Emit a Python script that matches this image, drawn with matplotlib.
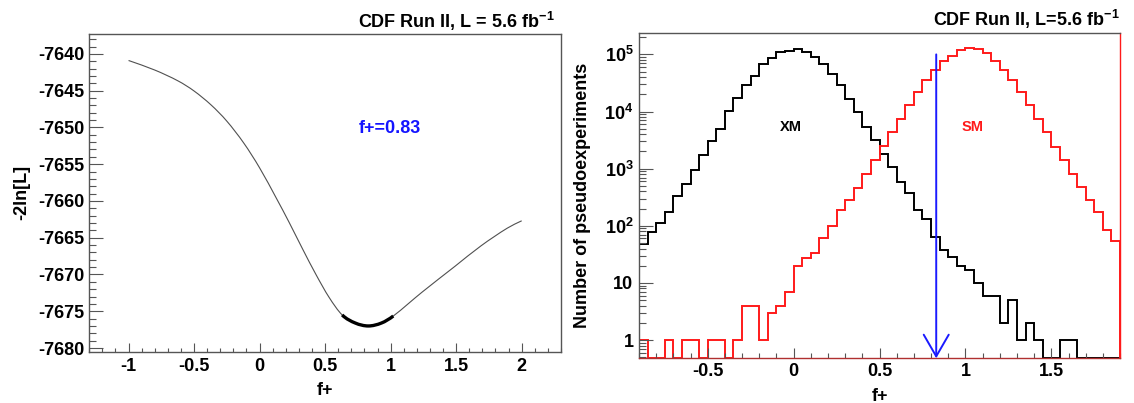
import numpy as np
import matplotlib
matplotlib.use("Agg")
import matplotlib.pyplot as plt
from matplotlib.path import Path
from matplotlib.patches import PathPatch
from matplotlib.ticker import (MultipleLocator, FixedLocator, FixedFormatter,
                               LogLocator, NullFormatter, FuncFormatter)

plt.rcParams['font.family'] = ['Liberation Sans', 'DejaVu Sans']
plt.rcParams['font.weight'] = 'bold'
plt.rcParams['axes.unicode_minus'] = False
plt.rcParams['mathtext.fontset'] = 'custom'
plt.rcParams['mathtext.rm'] = 'Liberation Sans:bold'
plt.rcParams['mathtext.it'] = 'Liberation Sans:bold'
plt.rcParams['mathtext.bf'] = 'Liberation Sans:bold'

# ---------------- data: left panel (likelihood scan) ----------------
scan_f = [-1.0, -0.8, -0.62, -0.5, -0.37, -0.25, -0.12, 0.0, 0.13, 0.225,
          0.33, 0.43, 0.53, 0.63, 0.73, 0.83, 0.93, 1.02, 1.24, 1.49,
          1.69, 1.89, 2.0]
scan_nll = [-7640.9, -7642.2, -7643.7, -7645.05, -7646.95, -7649.15, -7652.15,
            -7655.5, -7659.7, -7662.9, -7666.6, -7670.0, -7673.1, -7675.5,
            -7676.6, -7677.0, -7676.6, -7675.65, -7672.4, -7668.9, -7666.1,
            -7663.7, -7662.7]
f_fit = 0.83
band_lo, band_hi = 0.63, 1.02

# ---------------- data: right panel (pseudoexperiments) ----------------
bin_lo, bin_hi, n_bins = -0.9, 1.9, 56
xm_counts = [49, 78, 112, 175, 329, 534, 938, 1715, 3013, 4950,
             10080, 17250, 28700, 41200, 68700, 87500, 110000, 117000, 122000, 110000,
             89700, 68700, 46000, 28700, 16800, 9800, 5370, 3200, 1830, 1070,
             586, 370, 187, 134, 65, 37, 28, 20, 17, 10,
             6, 6, 2, 5, 1, 2, 1, 0, 0, 1,
             1, 0, 0, 0, 0, 0]
sm_counts = [1, 0, 0, 1, 0, 1, 1, 0, 1, 1,
             0, 1, 4, 4, 1, 3, 4, 7, 20, 27,
             34, 60, 98, 187, 280, 460, 810, 1440, 2450, 4380,
             7500, 12800, 21900, 35000, 52500, 76000, 92000, 121000, 131000, 122000,
             105000, 76000, 52500, 35000, 21900, 12800, 7500, 4380, 2400, 1400,
             800, 480, 280, 175, 84, 54]
ytick_vals = [1, 10, 1e2, 1e3, 1e4, 1e5]
ytick_text = ['1', '10', r'$10^{2}$', r'$10^{3}$', r'$10^{4}$', r'$10^{5}$']

Y_MIN, Y_MAX = 0.48, 2.4e5

fmt = FuncFormatter(lambda v, p: f'{v + 0:g}')


def smooth_curve(xs, ys, i0, i1):
    """Smooth Bezier path through the given points (indices i0..i1)."""
    xs = np.asarray(xs, float)
    ys = np.asarray(ys, float)
    n = len(xs)
    slopes = np.empty(n)
    for i in range(n):
        a, b = max(i - 1, 0), min(i + 1, n - 1)
        slopes[i] = (ys[b] - ys[a]) / (xs[b] - xs[a])
    verts = [(xs[i0], ys[i0])]
    codes = [Path.MOVETO]
    for i in range(i0, i1):
        h = xs[i + 1] - xs[i]
        verts += [(xs[i] + h / 3, ys[i] + slopes[i] * h / 3),
                  (xs[i + 1] - h / 3, ys[i + 1] - slopes[i + 1] * h / 3),
                  (xs[i + 1], ys[i + 1])]
        codes += [Path.CURVE4] * 3
    return Path(verts, codes)


fig = plt.figure(figsize=(11.34, 4.03), dpi=100)
ax1 = fig.add_axes([0.0787, 0.1273, 0.4160, 0.7883])
ax2 = fig.add_axes([0.5635, 0.1109, 0.4242, 0.8080])

# ---------------- left panel ----------------
f = np.array(scan_f)
nll = np.array(scan_nll)
ax1.add_patch(PathPatch(smooth_curve(f, nll, 0, len(f) - 1), fill=False,
                        edgecolor='#505050', lw=0.8))
idx = np.where((f >= band_lo) & (f <= band_hi))[0]
ax1.add_patch(PathPatch(smooth_curve(f, nll, idx[0], idx[-1]), fill=False,
                        edgecolor='black', lw=2.4, capstyle='butt'))
ax1.set_xlim(-1.3, 2.3)
ax1.set_ylim(-7680.5, -7637.3)
ax1.xaxis.set_major_locator(MultipleLocator(0.5))
ax1.xaxis.set_minor_locator(MultipleLocator(0.1))
ax1.yaxis.set_major_locator(MultipleLocator(5))
ax1.yaxis.set_minor_locator(MultipleLocator(1))
ax1.xaxis.set_major_formatter(fmt)
ax1.yaxis.set_major_formatter(fmt)
ax1.tick_params(which='both', direction='in', top=False, right=False,
                color='#555555', width=0.8, labelcolor='black')
ax1.tick_params(axis='y', which='major', length=10, pad=3.5, labelsize=13)
ax1.tick_params(axis='y', which='minor', length=5)
ax1.tick_params(axis='x', which='major', length=6.5, pad=4.5, labelsize=13)
ax1.tick_params(axis='x', which='minor', length=3.2)
for s in ax1.spines.values():
    s.set_color('#555555')
    s.set_linewidth(1.0)
ax1.set_xlabel('f+', fontsize=13, fontweight='bold', va='center')
ax1.xaxis.set_label_coords(0.5, -0.1206)
ax1.set_ylabel('-2ln[L]', fontsize=13, fontweight='bold', va='center')
ax1.yaxis.set_label_coords(-0.143, 0.5)
ax1.text(0.6375, 0.703, 'f+=0.83', transform=ax1.transAxes, ha='center',
         va='center', color='#1414ff', fontsize=13, fontweight='bold')
fig.text(555 / 1134, 1 - 28 / 403, r'CDF Run II, L = 5.6 fb$^{-1}$',
         ha='right', va='baseline', fontsize=13, fontweight='bold')

# ---------------- right panel ----------------
edges = np.linspace(bin_lo, bin_hi, n_bins + 1)
xm = np.array(xm_counts, dtype=float)
sm = np.array(sm_counts, dtype=float)
ax2.set_yscale('log')
ax2.stairs(np.where(xm > 0, xm, Y_MIN), edges, baseline=Y_MIN, fill=False,
           color='black', lw=1.4)
ax2.stairs(np.where(sm > 0, sm, Y_MIN), edges, baseline=Y_MIN, fill=False,
           color='#ff1a1a', lw=1.4)
ax2.annotate('', xy=(f_fit, Y_MIN), xytext=(f_fit, 1.0e5),
             arrowprops=dict(arrowstyle='->,head_length=1.56,head_width=0.9',
                             color='#1a1aff', lw=1.4, shrinkA=0, shrinkB=0,
                             mutation_scale=10))
ax2.set_xlim(bin_lo, bin_hi)
ax2.set_ylim(Y_MIN, Y_MAX)
ax2.yaxis.set_major_locator(FixedLocator(ytick_vals))
ax2.yaxis.set_major_formatter(FixedFormatter(ytick_text))
ax2.yaxis.set_minor_locator(LogLocator(base=10, subs=np.arange(2, 10)))
ax2.yaxis.set_minor_formatter(NullFormatter())
ax2.xaxis.set_major_locator(MultipleLocator(0.5))
ax2.xaxis.set_minor_locator(MultipleLocator(0.1))
ax2.xaxis.set_major_formatter(fmt)
ax2.tick_params(which='both', direction='in', top=False, right=False,
                color='#555555', width=0.8, labelcolor='black')
ax2.tick_params(axis='y', which='major', length=10, pad=4, labelsize=13)
ax2.tick_params(axis='y', which='minor', length=5)
ax2.tick_params(axis='x', which='major', length=7, pad=3.5, labelsize=13)
ax2.tick_params(axis='x', which='minor', length=3.5)
for k, s in ax2.spines.items():
    s.set_color('#555555')
    s.set_linewidth(1.0)
ax2.spines['right'].set_color('#ff1a1a')
ax2.spines['bottom'].set_color('#b03030')
ax2.set_xlabel('f+', fontsize=13, fontweight='bold', va='center')
ax2.xaxis.set_label_coords(0.5, -0.118)
ax2.set_ylabel('Number of pseudoexperiments', fontsize=13, fontweight='bold',
               va='center')
ax2.yaxis.set_label_coords(-0.1185, 0.5)
ax2.text(0.315, 0.709, 'XM', transform=ax2.transAxes, ha='center', va='center',
         color='black', fontsize=10.5, fontweight='bold')
ax2.text(0.694, 0.711, 'SM', transform=ax2.transAxes, ha='center', va='center',
         color='#ff1a1a', fontsize=10.5, fontweight='bold')
fig.text(1120 / 1134, 1 - 26 / 403, r'CDF Run II, L=5.6 fb$^{-1}$',
         ha='right', va='baseline', fontsize=13, fontweight='bold')

fig.savefig('out.png', dpi=100)
